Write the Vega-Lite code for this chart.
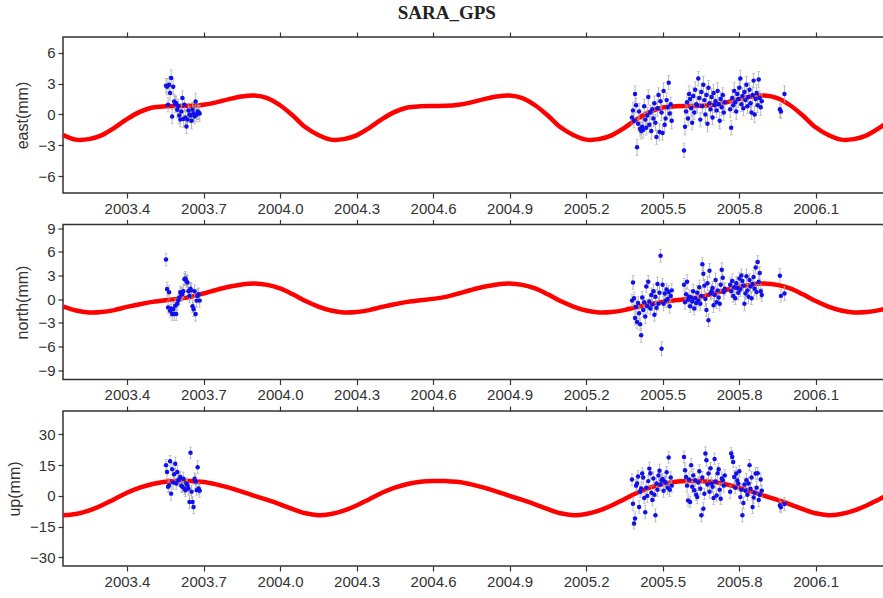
{
"$schema": "https://vega.github.io/schema/vega-lite/v6.json",
"background": "white",
"padding": {"left": 5, "top": 3, "right": 0, "bottom": 0},
"title": {"text": "SARA_GPS", "font": "Liberation Serif", "fontSize": 19, "fontWeight": "bold", "color": "#222222", "anchor": "middle", "offset": 8},
"spacing": 31.5,
"bounds": "flush",
"datasets": {
"model": [
{"t":2003.15,"e":-2.0,"n":-0.95,"u":-9.4},{"t":2003.20,"e":-2.45,"n":-1.45,"u":-8.8},{"t":2003.25,"e":-2.4,"n":-1.7,"u":-7.2},{"t":2003.30,"e":-2.03,"n":-1.65,"u":-4.7},{"t":2003.35,"e":-1.3,"n":-1.4,"u":-1.6},{"t":2003.40,"e":-0.45,"n":-1.0,"u":1.5},{"t":2003.45,"e":0.25,"n":-0.65,"u":4.0},{"t":2003.50,"e":0.68,"n":-0.36,"u":5.8},{"t":2003.55,"e":0.8,"n":-0.15,"u":6.9},{"t":2003.60,"e":0.82,"n":0.02,"u":7.3},{"t":2003.65,"e":0.84,"n":0.28,"u":7.2},{"t":2003.70,"e":0.95,"n":0.7,"u":6.8},{"t":2003.75,"e":1.18,"n":1.15,"u":5.6},{"t":2003.80,"e":1.5,"n":1.55,"u":4.0},{"t":2003.85,"e":1.76,"n":1.85,"u":2.1},{"t":2003.90,"e":1.85,"n":1.98,"u":0.0},{"t":2003.95,"e":1.6,"n":1.8,"u":-2.0},
{"t":2004.00,"e":0.9,"n":1.35,"u":-4.1},{"t":2004.05,"e":-0.1,"n":0.6,"u":-6.5},{"t":2004.10,"e":-1.25,"n":-0.25,"u":-8.5},{"t":2004.15,"e":-2.0,"n":-0.95,"u":-9.4},{"t":2004.20,"e":-2.45,"n":-1.45,"u":-8.8},{"t":2004.25,"e":-2.4,"n":-1.7,"u":-7.2},{"t":2004.30,"e":-2.03,"n":-1.65,"u":-4.7},{"t":2004.35,"e":-1.3,"n":-1.4,"u":-1.6},{"t":2004.40,"e":-0.45,"n":-1.0,"u":1.5},{"t":2004.45,"e":0.25,"n":-0.65,"u":4.0},{"t":2004.50,"e":0.68,"n":-0.36,"u":5.8},{"t":2004.55,"e":0.8,"n":-0.15,"u":6.9},{"t":2004.60,"e":0.82,"n":0.02,"u":7.3},{"t":2004.65,"e":0.84,"n":0.28,"u":7.2},{"t":2004.70,"e":0.95,"n":0.7,"u":6.8},{"t":2004.75,"e":1.18,"n":1.15,"u":5.6},{"t":2004.80,"e":1.5,"n":1.55,"u":4.0},{"t":2004.85,"e":1.76,"n":1.85,"u":2.1},{"t":2004.90,"e":1.85,"n":1.98,"u":0.0},{"t":2004.95,"e":1.6,"n":1.8,"u":-2.0},
{"t":2005.00,"e":0.9,"n":1.35,"u":-4.1},{"t":2005.05,"e":-0.1,"n":0.6,"u":-6.5},{"t":2005.10,"e":-1.25,"n":-0.25,"u":-8.5},{"t":2005.15,"e":-2.0,"n":-0.95,"u":-9.4},{"t":2005.20,"e":-2.45,"n":-1.45,"u":-8.8},{"t":2005.25,"e":-2.4,"n":-1.7,"u":-7.2},{"t":2005.30,"e":-2.03,"n":-1.65,"u":-4.7},{"t":2005.35,"e":-1.3,"n":-1.4,"u":-1.6},{"t":2005.40,"e":-0.45,"n":-1.0,"u":1.5},{"t":2005.45,"e":0.25,"n":-0.65,"u":4.0},{"t":2005.50,"e":0.68,"n":-0.36,"u":5.8},{"t":2005.55,"e":0.8,"n":-0.15,"u":6.9},{"t":2005.60,"e":0.82,"n":0.02,"u":7.3},{"t":2005.65,"e":0.84,"n":0.28,"u":7.2},{"t":2005.70,"e":0.95,"n":0.7,"u":6.8},{"t":2005.75,"e":1.18,"n":1.15,"u":5.6},{"t":2005.80,"e":1.5,"n":1.55,"u":4.0},{"t":2005.85,"e":1.76,"n":1.85,"u":2.1},{"t":2005.90,"e":1.85,"n":1.98,"u":0.0},{"t":2005.95,"e":1.6,"n":1.8,"u":-2.0},
{"t":2006.00,"e":0.9,"n":1.35,"u":-4.1},{"t":2006.05,"e":-0.1,"n":0.6,"u":-6.5},{"t":2006.10,"e":-1.25,"n":-0.25,"u":-8.5},{"t":2006.15,"e":-2.0,"n":-0.95,"u":-9.4},{"t":2006.20,"e":-2.45,"n":-1.45,"u":-8.8},{"t":2006.25,"e":-2.4,"n":-1.7,"u":-7.2},{"t":2006.30,"e":-2.03,"n":-1.65,"u":-4.7},{"t":2006.35,"e":-1.3,"n":-1.4,"u":-1.6},{"t":2006.40,"e":-0.45,"n":-1.0,"u":1.5}
],
"obs": [
{"t":2003.553,"e":2.8,"n":5.0,"u":15.0,"se":0.7,"sn":0.8,"su":2.8},
{"t":2003.557,"e":2.7,"n":1.27,"u":11.7,"se":0.8,"sn":0.9,"su":3.2},
{"t":2003.561,"e":0.95,"n":-1.06,"u":4.4,"se":0.7,"sn":0.8,"su":2.8},
{"t":2003.565,"e":2.9,"n":0.85,"u":5.2,"se":0.8,"sn":0.9,"su":3.2},
{"t":2003.569,"e":2.1,"n":-1.5,"u":16.9,"se":0.7,"sn":0.8,"su":2.8},
{"t":2003.573,"e":3.55,"n":-1.2,"u":1.1,"se":0.8,"sn":0.9,"su":3.2},
{"t":2003.577,"e":-0.2,"n":-1.9,"u":13.0,"se":0.7,"sn":0.8,"su":2.8},
{"t":2003.581,"e":2.7,"n":-1.3,"u":6.5,"se":0.8,"sn":0.9,"su":3.2},
{"t":2003.585,"e":1.27,"n":-1.9,"u":10.5,"se":0.7,"sn":0.8,"su":2.8},
{"t":2003.589,"e":1.0,"n":-0.85,"u":15.7,"se":0.8,"sn":0.9,"su":3.2},
{"t":2003.593,"e":1.1,"n":-1.9,"u":6.0,"se":0.7,"sn":0.8,"su":2.8},
{"t":2003.597,"e":0.46,"n":-0.6,"u":11.7,"se":0.8,"sn":0.9,"su":3.2},
{"t":2003.601,"e":0.8,"n":-0.2,"u":7.6,"se":0.7,"sn":0.8,"su":2.8},
{"t":2003.605,"e":-0.1,"n":0.2,"u":8.0,"se":0.8,"sn":0.9,"su":3.2},
{"t":2003.609,"e":-0.5,"n":0.85,"u":9.2,"se":0.7,"sn":0.8,"su":2.8},
{"t":2003.613,"e":0.3,"n":0.6,"u":5.0,"se":0.8,"sn":0.9,"su":3.2},
{"t":2003.617,"e":1.6,"n":0.6,"u":4.4,"se":0.7,"sn":0.8,"su":2.8},
{"t":2003.621,"e":-0.45,"n":1.0,"u":8.4,"se":0.8,"sn":0.9,"su":3.2},
{"t":2003.625,"e":0.95,"n":2.5,"u":3.5,"se":0.7,"sn":0.8,"su":2.8},
{"t":2003.629,"e":-0.3,"n":2.6,"u":2.8,"se":0.8,"sn":0.9,"su":3.2},
{"t":2003.633,"e":-1.17,"n":2.3,"u":6.0,"se":0.7,"sn":0.8,"su":2.8},
{"t":2003.637,"e":-0.5,"n":2.1,"u":5.2,"se":0.8,"sn":0.9,"su":3.2},
{"t":2003.641,"e":0.4,"n":1.0,"u":3.6,"se":0.7,"sn":0.8,"su":2.8},
{"t":2003.645,"e":0.0,"n":0.4,"u":-3.0,"se":0.8,"sn":0.9,"su":3.2},
{"t":2003.649,"e":-0.1,"n":1.3,"u":21.0,"se":0.7,"sn":0.8,"su":2.8},
{"t":2003.653,"e":-0.6,"n":1.1,"u":2.0,"se":0.8,"sn":0.9,"su":3.2},
{"t":2003.657,"e":0.46,"n":-0.9,"u":-3.0,"se":0.7,"sn":0.8,"su":2.8},
{"t":2003.661,"e":0.1,"n":-1.3,"u":-5.4,"se":0.8,"sn":0.9,"su":3.2},
{"t":2003.665,"e":-0.2,"n":1.0,"u":8.4,"se":0.7,"sn":0.8,"su":2.8},
{"t":2003.669,"e":1.27,"n":-1.9,"u":7.0,"se":0.8,"sn":0.9,"su":3.2},
{"t":2003.673,"e":0.0,"n":-0.2,"u":2.8,"se":0.7,"sn":0.8,"su":2.8},
{"t":2003.677,"e":0.3,"n":0.4,"u":14.0,"se":0.8,"sn":0.9,"su":3.2},
{"t":2003.681,"e":0.2,"n":0.6,"u":3.6,"se":0.7,"sn":0.8,"su":2.8},
{"t":2003.685,"e":0.1,"n":-0.2,"u":2.5,"se":0.8,"sn":0.9,"su":3.2},
{"t":2005.380,"e":-0.3,"n":-0.2,"u":8.0,"se":0.7,"sn":0.8,"su":2.8},
{"t":2005.384,"e":0.4,"n":2.1,"u":-3.8,"se":0.8,"sn":0.9,"su":3.2},
{"t":2005.388,"e":-0.6,"n":0.1,"u":-13.5,"se":0.7,"sn":0.8,"su":2.8},
{"t":2005.392,"e":2.0,"n":-2.4,"u":-11.0,"se":0.8,"sn":0.9,"su":3.2},
{"t":2005.396,"e":0.9,"n":-1.0,"u":5.0,"se":0.7,"sn":0.8,"su":2.8},
{"t":2005.400,"e":-3.2,"n":-2.9,"u":6.0,"se":0.8,"sn":0.9,"su":3.2},
{"t":2005.404,"e":-0.9,"n":-0.5,"u":9.5,"se":0.7,"sn":0.8,"su":2.8},
{"t":2005.408,"e":0.3,"n":-1.8,"u":-5.4,"se":0.8,"sn":0.9,"su":3.2},
{"t":2005.412,"e":-1.4,"n":-3.2,"u":2.0,"se":0.7,"sn":0.8,"su":2.8},
{"t":2005.416,"e":-1.6,"n":-4.6,"u":3.6,"se":0.8,"sn":0.9,"su":3.2},
{"t":2005.420,"e":-1.2,"n":0.2,"u":10.9,"se":0.7,"sn":0.8,"su":2.8},
{"t":2005.424,"e":-1.5,"n":-1.4,"u":9.0,"se":0.8,"sn":0.9,"su":3.2},
{"t":2005.428,"e":0.8,"n":-0.4,"u":-1.0,"se":0.7,"sn":0.8,"su":2.8},
{"t":2005.432,"e":-0.5,"n":-2.2,"u":-8.0,"se":0.8,"sn":0.9,"su":3.2},
{"t":2005.436,"e":-1.3,"n":1.6,"u":4.0,"se":0.7,"sn":0.8,"su":2.8},
{"t":2005.440,"e":-0.1,"n":-0.9,"u":0.0,"se":0.8,"sn":0.9,"su":3.2},
{"t":2005.444,"e":1.7,"n":2.2,"u":7.2,"se":0.7,"sn":0.8,"su":2.8},
{"t":2005.448,"e":-1.0,"n":-0.3,"u":13.3,"se":0.8,"sn":0.9,"su":3.2},
{"t":2005.452,"e":0.2,"n":-1.2,"u":11.0,"se":0.7,"sn":0.8,"su":2.8},
{"t":2005.456,"e":-1.6,"n":0.5,"u":1.5,"se":0.8,"sn":0.9,"su":3.2},
{"t":2005.460,"e":0.5,"n":-0.7,"u":-2.0,"se":0.7,"sn":0.8,"su":2.8},
{"t":2005.464,"e":-0.4,"n":1.0,"u":8.5,"se":0.8,"sn":0.9,"su":3.2},
{"t":2005.468,"e":1.1,"n":-2.0,"u":0.5,"se":0.7,"sn":0.8,"su":2.8},
{"t":2005.472,"e":-0.8,"n":0.3,"u":-9.5,"se":0.8,"sn":0.9,"su":3.2},
{"t":2005.476,"e":-2.2,"n":-1.1,"u":6.0,"se":0.7,"sn":0.8,"su":2.8},
{"t":2005.480,"e":0.6,"n":1.9,"u":3.0,"se":0.8,"sn":0.9,"su":3.2},
{"t":2005.484,"e":1.9,"n":-0.6,"u":10.0,"se":0.7,"sn":0.8,"su":2.8},
{"t":2005.488,"e":-1.7,"n":0.8,"u":12.3,"se":0.8,"sn":0.9,"su":3.2},
{"t":2005.492,"e":1.3,"n":5.5,"u":5.5,"se":0.7,"sn":0.8,"su":2.8},
{"t":2005.496,"e":0.2,"n":-6.3,"u":7.6,"se":0.8,"sn":0.9,"su":3.2},
{"t":2005.500,"e":-1.8,"n":1.8,"u":8.2,"se":0.7,"sn":0.8,"su":2.8},
{"t":2005.504,"e":2.3,"n":-0.6,"u":2.5,"se":0.8,"sn":0.9,"su":3.2},
{"t":2005.508,"e":-1.0,"n":0.7,"u":7.0,"se":0.7,"sn":0.8,"su":2.8},
{"t":2005.512,"e":-0.4,"n":-0.2,"u":6.5,"se":0.8,"sn":0.9,"su":3.2},
{"t":2005.516,"e":1.4,"n":1.2,"u":11.5,"se":0.7,"sn":0.8,"su":2.8},
{"t":2005.520,"e":0.7,"n":0.0,"u":4.0,"se":0.8,"sn":0.9,"su":3.2},
{"t":2005.524,"e":3.1,"n":0.9,"u":18.7,"se":0.7,"sn":0.8,"su":2.8},
{"t":2005.528,"e":0.1,"n":-0.9,"u":3.0,"se":0.8,"sn":0.9,"su":3.2},
{"t":2005.532,"e":1.0,"n":0.4,"u":9.0,"se":0.7,"sn":0.8,"su":2.8},
{"t":2005.536,"e":-0.6,"n":1.1,"u":5.0,"se":0.8,"sn":0.9,"su":3.2},
{"t":2005.584,"e":-3.5,"n":1.8,"u":19.0,"se":0.7,"sn":0.8,"su":2.8},
{"t":2005.588,"e":-1.2,"n":-0.4,"u":12.5,"se":0.8,"sn":0.9,"su":3.2},
{"t":2005.592,"e":0.3,"n":0.6,"u":9.2,"se":0.7,"sn":0.8,"su":2.8},
{"t":2005.596,"e":1.2,"n":2.2,"u":5.0,"se":0.8,"sn":0.9,"su":3.2},
{"t":2005.600,"e":-0.4,"n":-0.1,"u":-2.2,"se":0.7,"sn":0.8,"su":2.8},
{"t":2005.604,"e":2.0,"n":0.3,"u":8.0,"se":0.8,"sn":0.9,"su":3.2},
{"t":2005.608,"e":1.5,"n":-0.9,"u":-3.0,"se":0.7,"sn":0.8,"su":2.8},
{"t":2005.612,"e":0.6,"n":0.2,"u":15.0,"se":0.8,"sn":0.9,"su":3.2},
{"t":2005.616,"e":-0.8,"n":-0.3,"u":4.4,"se":0.7,"sn":0.8,"su":2.8},
{"t":2005.620,"e":1.8,"n":1.0,"u":10.0,"se":0.8,"sn":0.9,"su":3.2},
{"t":2005.624,"e":0.2,"n":-1.2,"u":2.8,"se":0.7,"sn":0.8,"su":2.8},
{"t":2005.628,"e":2.4,"n":0.1,"u":7.6,"se":0.8,"sn":0.9,"su":3.2},
{"t":2005.632,"e":1.0,"n":-0.5,"u":0.5,"se":0.7,"sn":0.8,"su":2.8},
{"t":2005.636,"e":0.9,"n":0.8,"u":-0.6,"se":0.8,"sn":0.9,"su":3.2},
{"t":2005.640,"e":3.5,"n":-0.2,"u":6.5,"se":0.7,"sn":0.8,"su":2.8},
{"t":2005.644,"e":1.6,"n":1.5,"u":12.0,"se":0.8,"sn":0.9,"su":3.2},
{"t":2005.648,"e":-0.5,"n":-0.6,"u":3.5,"se":0.7,"sn":0.8,"su":2.8},
{"t":2005.652,"e":2.2,"n":0.4,"u":-9.5,"se":0.8,"sn":0.9,"su":3.2},
{"t":2005.656,"e":0.8,"n":4.4,"u":9.0,"se":0.7,"sn":0.8,"su":2.8},
{"t":2005.660,"e":2.9,"n":3.2,"u":-6.3,"se":0.8,"sn":0.9,"su":3.2},
{"t":2005.664,"e":1.4,"n":1.7,"u":1.0,"se":0.7,"sn":0.8,"su":2.8},
{"t":2005.668,"e":0.0,"n":0.0,"u":20.7,"se":0.8,"sn":0.9,"su":3.2},
{"t":2005.672,"e":1.9,"n":-1.4,"u":17.4,"se":0.7,"sn":0.8,"su":2.8},
{"t":2005.676,"e":-0.9,"n":2.0,"u":5.5,"se":0.8,"sn":0.9,"su":3.2},
{"t":2005.680,"e":2.6,"n":-2.7,"u":10.9,"se":0.7,"sn":0.8,"su":2.8},
{"t":2005.684,"e":1.1,"n":3.6,"u":2.0,"se":0.8,"sn":0.9,"su":3.2},
{"t":2005.688,"e":0.5,"n":0.7,"u":13.5,"se":0.7,"sn":0.8,"su":2.8},
{"t":2005.692,"e":1.7,"n":1.0,"u":6.0,"se":0.8,"sn":0.9,"su":3.2},
{"t":2005.696,"e":-0.3,"n":1.4,"u":4.4,"se":0.7,"sn":0.8,"su":2.8},
{"t":2005.700,"e":2.1,"n":-0.8,"u":-1.0,"se":0.8,"sn":0.9,"su":3.2},
{"t":2005.704,"e":0.9,"n":0.5,"u":18.0,"se":0.7,"sn":0.8,"su":2.8},
{"t":2005.708,"e":1.3,"n":2.4,"u":7.0,"se":0.8,"sn":0.9,"su":3.2},
{"t":2005.712,"e":0.4,"n":-0.4,"u":0.2,"se":0.7,"sn":0.8,"su":2.8},
{"t":2005.716,"e":2.3,"n":1.1,"u":11.0,"se":0.8,"sn":0.9,"su":3.2},
{"t":2005.720,"e":1.0,"n":0.2,"u":13.0,"se":0.7,"sn":0.8,"su":2.8},
{"t":2005.724,"e":-0.6,"n":-0.6,"u":3.0,"se":0.8,"sn":0.9,"su":3.2},
{"t":2005.728,"e":1.5,"n":1.8,"u":-1.4,"se":0.7,"sn":0.8,"su":2.8},
{"t":2005.732,"e":0.7,"n":3.7,"u":8.5,"se":0.8,"sn":0.9,"su":3.2},
{"t":2005.736,"e":1.9,"n":2.7,"u":7.6,"se":0.7,"sn":0.8,"su":2.8},
{"t":2005.740,"e":0.2,"n":0.9,"u":5.0,"se":0.8,"sn":0.9,"su":3.2},
{"t":2005.744,"e":1.2,"n":1.3,"u":10.0,"se":0.7,"sn":0.8,"su":2.8},
{"t":2005.765,"e":0.5,"n":1.8,"u":2.0,"se":0.8,"sn":0.9,"su":3.2},
{"t":2005.769,"e":-1.3,"n":1.0,"u":20.7,"se":0.7,"sn":0.8,"su":2.8},
{"t":2005.773,"e":1.6,"n":2.3,"u":19.0,"se":0.8,"sn":0.9,"su":3.2},
{"t":2005.777,"e":0.9,"n":0.4,"u":16.5,"se":0.7,"sn":0.8,"su":2.8},
{"t":2005.781,"e":2.3,"n":1.5,"u":9.2,"se":0.8,"sn":0.9,"su":3.2},
{"t":2005.785,"e":1.2,"n":0.1,"u":4.0,"se":0.7,"sn":0.8,"su":2.8},
{"t":2005.789,"e":0.3,"n":2.0,"u":10.9,"se":0.8,"sn":0.9,"su":3.2},
{"t":2005.793,"e":2.0,"n":1.4,"u":7.5,"se":0.7,"sn":0.8,"su":2.8},
{"t":2005.797,"e":1.5,"n":0.8,"u":6.0,"se":0.8,"sn":0.9,"su":3.2},
{"t":2005.801,"e":2.6,"n":2.6,"u":12.0,"se":0.7,"sn":0.8,"su":2.8},
{"t":2005.805,"e":3.5,"n":1.2,"u":-0.6,"se":0.8,"sn":0.9,"su":3.2},
{"t":2005.809,"e":1.0,"n":3.0,"u":3.0,"se":0.7,"sn":0.8,"su":2.8},
{"t":2005.813,"e":1.8,"n":2.3,"u":-9.5,"se":0.8,"sn":0.9,"su":3.2},
{"t":2005.817,"e":0.6,"n":1.7,"u":-3.5,"se":0.7,"sn":0.8,"su":2.8},
{"t":2005.821,"e":2.2,"n":-0.6,"u":5.5,"se":0.8,"sn":0.9,"su":3.2},
{"t":2005.825,"e":1.4,"n":0.7,"u":2.5,"se":0.7,"sn":0.8,"su":2.8},
{"t":2005.829,"e":2.9,"n":2.9,"u":7.6,"se":0.8,"sn":0.9,"su":3.2},
{"t":2005.833,"e":0.8,"n":1.1,"u":0.5,"se":0.7,"sn":0.8,"su":2.8},
{"t":2005.837,"e":1.7,"n":0.3,"u":6.0,"se":0.8,"sn":0.9,"su":3.2},
{"t":2005.841,"e":2.4,"n":2.4,"u":15.0,"se":0.7,"sn":0.8,"su":2.8},
{"t":2005.845,"e":1.1,"n":1.6,"u":3.5,"se":0.8,"sn":0.9,"su":3.2},
{"t":2005.849,"e":0.2,"n":0.1,"u":9.0,"se":0.7,"sn":0.8,"su":2.8},
{"t":2005.853,"e":1.9,"n":1.9,"u":-5.4,"se":0.8,"sn":0.9,"su":3.2},
{"t":2005.857,"e":3.3,"n":2.8,"u":-0.8,"se":0.7,"sn":0.8,"su":2.8},
{"t":2005.861,"e":0.0,"n":1.3,"u":1.5,"se":0.8,"sn":0.9,"su":3.2},
{"t":2005.865,"e":1.5,"n":4.0,"u":10.9,"se":0.7,"sn":0.8,"su":2.8},
{"t":2005.869,"e":2.1,"n":0.9,"u":4.0,"se":0.8,"sn":0.9,"su":3.2},
{"t":2005.873,"e":0.9,"n":4.7,"u":11.0,"se":0.7,"sn":0.8,"su":2.8},
{"t":2005.877,"e":3.4,"n":2.2,"u":-2.0,"se":0.8,"sn":0.9,"su":3.2},
{"t":2005.881,"e":1.6,"n":3.3,"u":0.6,"se":0.7,"sn":0.8,"su":2.8},
{"t":2005.885,"e":0.7,"n":1.0,"u":8.0,"se":0.8,"sn":0.9,"su":3.2},
{"t":2005.889,"e":1.3,"n":0.5,"u":2.5,"se":0.7,"sn":0.8,"su":2.8},
{"t":2005.960,"e":0.5,"n":2.95,"u":-4.6,"se":0.8,"sn":0.9,"su":3.2},
{"t":2005.964,"e":0.3,"n":0.4,"u":-5.5,"se":0.7,"sn":0.8,"su":2.8},
{"t":2005.978,"e":2.0,"n":0.7,"u":-4.0,"se":0.8,"sn":0.9,"su":3.2}
]
},
"vconcat": [
{
"width": 824, "height": 156,
"resolve": {"axis": {"x": "independent"}},
"layer": [
{"data": {"name": "model"}, "mark": {"type": "line", "color": "#ff0000", "strokeWidth": 4.5, "interpolate": "catmull-rom", "clip": true},
 "encoding": {
  "x": {"field": "t", "type": "quantitative", "scale": {"domain": [2003.149, 2006.38], "nice": false, "zero": false}, "axis": {"orient": "bottom", "title": null, "format": ".1f", "values": [2003.4, 2003.7, 2004.0, 2004.3, 2004.6, 2004.9, 2005.2, 2005.5, 2005.8, 2006.1]}},
  "y": {"field": "e", "type": "quantitative", "scale": {"domain": [-7.65, 7.55], "nice": false, "zero": false}, "title": "east(mm)", "axis": {"values": [-6, -3, 0, 3, 6]}}
 }},
{"data": {"name": "obs"}, "mark": {"type": "errorbar", "color": "#a8a8a8", "thickness": 0.8, "ticks": {"size": 3, "color": "#a8a8a8"}},
 "encoding": {
  "x": {"field": "t", "type": "quantitative", "axis": {"orient": "top", "title": null, "labels": false, "values": [2003.4, 2003.7, 2004.0, 2004.3, 2004.6, 2004.9, 2005.2, 2005.5, 2005.8, 2006.1]}},
  "y": {"field": "e", "type": "quantitative", "title": "east(mm)", "axis": {"values": [-6, -3, 0, 3, 6]}},
  "yError": {"field": "se"}
 }},
{"data": {"name": "obs"}, "mark": {"type": "circle", "color": "#1010ee", "size": 20, "opacity": 1},
 "encoding": {
  "x": {"field": "t", "type": "quantitative", "axis": null},
  "y": {"field": "e", "type": "quantitative", "title": "east(mm)", "axis": {"values": [-6, -3, 0, 3, 6]}}
 }}
]
},
{
"width": 824, "height": 155,
"resolve": {"axis": {"x": "independent"}},
"layer": [
{"data": {"name": "model"}, "mark": {"type": "line", "color": "#ff0000", "strokeWidth": 4.5, "interpolate": "catmull-rom", "clip": true},
 "encoding": {
  "x": {"field": "t", "type": "quantitative", "scale": {"domain": [2003.149, 2006.38], "nice": false, "zero": false}, "axis": {"orient": "bottom", "title": null, "format": ".1f", "values": [2003.4, 2003.7, 2004.0, 2004.3, 2004.6, 2004.9, 2005.2, 2005.5, 2005.8, 2006.1]}},
  "y": {"field": "n", "type": "quantitative", "scale": {"domain": [-10.2, 9.45], "nice": false, "zero": false}, "title": "north(mm)", "axis": {"values": [-9, -6, -3, 0, 3, 6, 9]}}
 }},
{"data": {"name": "obs"}, "mark": {"type": "errorbar", "color": "#a8a8a8", "thickness": 0.8, "ticks": {"size": 3, "color": "#a8a8a8"}},
 "encoding": {
  "x": {"field": "t", "type": "quantitative", "axis": {"orient": "top", "title": null, "labels": false, "values": [2003.4, 2003.7, 2004.0, 2004.3, 2004.6, 2004.9, 2005.2, 2005.5, 2005.8, 2006.1]}},
  "y": {"field": "n", "type": "quantitative", "title": "north(mm)", "axis": {"values": [-9, -6, -3, 0, 3, 6, 9]}},
  "yError": {"field": "sn"}
 }},
{"data": {"name": "obs"}, "mark": {"type": "circle", "color": "#1010ee", "size": 20, "opacity": 1},
 "encoding": {
  "x": {"field": "t", "type": "quantitative", "axis": null},
  "y": {"field": "n", "type": "quantitative", "title": "north(mm)", "axis": {"values": [-9, -6, -3, 0, 3, 6, 9]}}
 }}
]
},
{
"width": 824, "height": 155,
"resolve": {"axis": {"x": "independent"}},
"layer": [
{"data": {"name": "model"}, "mark": {"type": "line", "color": "#ff0000", "strokeWidth": 4.5, "interpolate": "catmull-rom", "clip": true},
 "encoding": {
  "x": {"field": "t", "type": "quantitative", "scale": {"domain": [2003.149, 2006.38], "nice": false, "zero": false}, "axis": {"orient": "bottom", "title": null, "format": ".1f", "values": [2003.4, 2003.7, 2004.0, 2004.3, 2004.6, 2004.9, 2005.2, 2005.5, 2005.8, 2006.1]}},
  "y": {"field": "u", "type": "quantitative", "scale": {"domain": [-34.2, 41.4], "nice": false, "zero": false}, "title": "up(mm)", "axis": {"values": [-30, -15, 0, 15, 30]}}
 }},
{"data": {"name": "obs"}, "mark": {"type": "errorbar", "color": "#a8a8a8", "thickness": 0.8, "ticks": {"size": 3, "color": "#a8a8a8"}},
 "encoding": {
  "x": {"field": "t", "type": "quantitative", "axis": {"orient": "top", "title": null, "labels": false, "values": [2003.4, 2003.7, 2004.0, 2004.3, 2004.6, 2004.9, 2005.2, 2005.5, 2005.8, 2006.1]}},
  "y": {"field": "u", "type": "quantitative", "title": "up(mm)", "axis": {"values": [-30, -15, 0, 15, 30]}},
  "yError": {"field": "su"}
 }},
{"data": {"name": "obs"}, "mark": {"type": "circle", "color": "#1010ee", "size": 20, "opacity": 1},
 "encoding": {
  "x": {"field": "t", "type": "quantitative", "axis": null},
  "y": {"field": "u", "type": "quantitative", "title": "up(mm)", "axis": {"values": [-30, -15, 0, 15, 30]}}
 }}
]
}
],
"config": {
 "view": {"stroke": "#333333", "strokeWidth": 1.5},
 "axis": {"grid": false, "domain": false, "ticks": true, "tickColor": "#333333", "tickSize": 5, "tickWidth": 1.2, "labelFont": "Liberation Sans", "labelFontSize": 15, "labelColor": "#333333", "labelPadding": 3, "labelOverlap": false, "labelFlush": false, "titleFont": "Liberation Sans", "titleFontSize": 16, "titleFontWeight": "normal", "titleColor": "#333333", "titlePadding": 7}
}
}
